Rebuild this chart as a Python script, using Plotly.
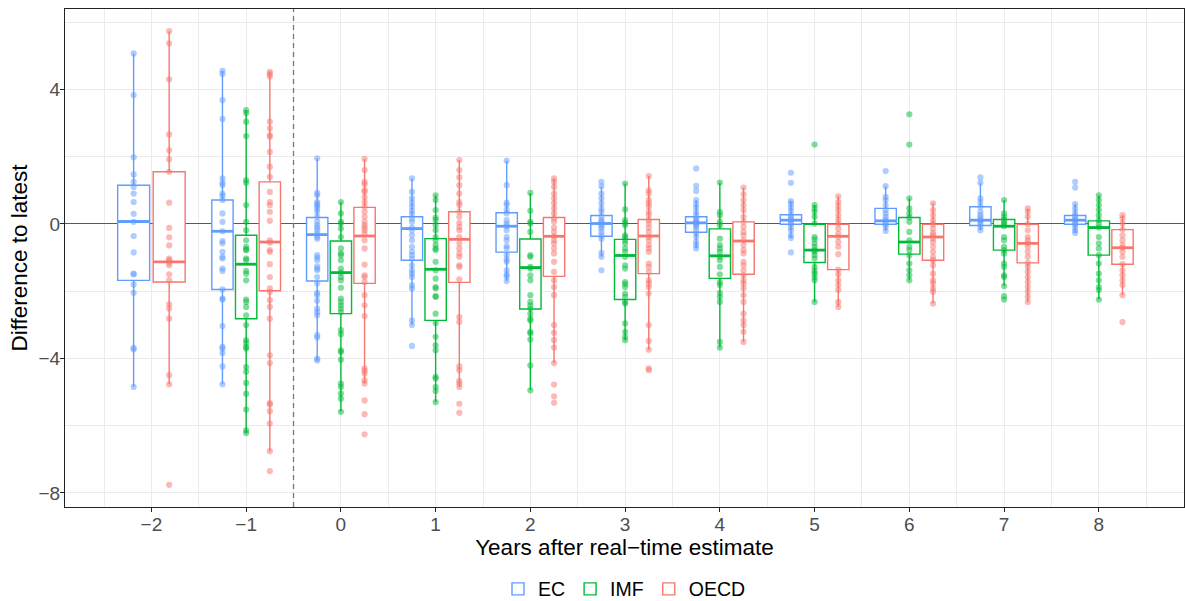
import plotly.graph_objects as go

# ---------------------------------------------------------------------------
# Data: revisions of the real-time estimate relative to the latest vintage
# ---------------------------------------------------------------------------
years = [-2, -1, 0, 1, 2, 3, 4, 5, 6, 7, 8]
sources = ["EC", "IMF", "OECD"]
colors = {"EC": "#619CFF", "IMF": "#00BA38", "OECD": "#F8766D"}

# box statistics per year (None = no forecasts from that source)
ec_q1 = [-1.68, -1.95, -1.70, -1.08, -0.84, -0.37, -0.25, -0.01, -0.01, -0.05, -0.01]
ec_median = [0.07, -0.22, -0.32, -0.14, -0.07, 0.01, 0.03, 0.11, 0.09, 0.11, 0.11]
ec_q3 = [1.15, 0.71, 0.19, 0.21, 0.33, 0.25, 0.21, 0.27, 0.46, 0.51, 0.25]
ec_lo = [-4.85, -4.77, -4.06, -3.01, -1.70, -0.98, -0.73, -0.42, -0.21, -0.19, -0.27]
ec_hi = [5.07, 4.55, 1.95, 1.35, 1.88, 1.12, 0.71, 0.68, 1.12, 1.22, 0.59]

imf_q1 = [None, -2.82, -2.67, -2.87, -2.53, -2.25, -1.62, -1.15, -0.90, -0.78, -0.93]
imf_median = [None, -1.20, -1.45, -1.35, -1.30, -0.94, -0.95, -0.78, -0.54, -0.07, -0.11]
imf_q3 = [None, -0.34, -0.51, -0.44, -0.45, -0.46, -0.15, -0.01, 0.19, 0.13, 0.09]
imf_lo = [None, -6.22, -5.59, -5.30, -4.95, -3.46, -3.68, -2.32, -1.68, -1.85, -2.25]
imf_hi = [None, 3.38, 0.65, 0.85, 0.92, 1.20, 1.23, 0.56, 0.76, 0.71, 0.85]

oecd_q1 = [-1.73, -1.99, -1.77, -1.74, -1.56, -1.48, -1.50, -1.36, -1.08, -1.16, -1.20]
oecd_median = [-1.13, -0.54, -0.36, -0.46, -0.37, -0.36, -0.51, -0.37, -0.39, -0.58, -0.71]
oecd_q3 = [1.55, 1.25, 0.49, 0.36, 0.19, 0.13, 0.06, -0.01, -0.01, -0.01, -0.17]
oecd_lo = [-4.77, -6.76, -4.75, -4.85, -4.14, -3.74, -3.51, -2.47, -2.37, -2.32, -2.12]
oecd_hi = [5.73, 4.52, 1.93, 1.90, 1.35, 1.42, 1.08, 0.82, 0.61, 0.46, 0.26]

# individual country revisions, one list per year
ec_points = [
    [5.07, 3.83, 1.98, 1.47, 1.25, 1.10, 0.90, 0.65, 0.30, 0.06, -0.36, -0.85, -1.48, -1.50, -1.80, -2.05, -3.69, -3.73, -4.85],
    [4.55, 4.46, 3.68, 3.12, 1.35, 1.22, 1.15, 0.90, 0.83, 0.71, 0.31, 0.06, -0.22, -0.51, -0.58, -0.83, -0.98, -1.03, -1.33, -1.40, -1.95, -2.22, -2.25, -3.04, -3.66, -3.71, -3.84, -4.24, -4.77],
    [1.95, 0.92, 0.85, 0.65, 0.59, 0.53, 0.46, 0.36, 0.21, 0.06, -0.04, -0.11, -0.19, -0.29, -0.39, -0.44, -0.93, -1.00, -1.08, -1.26, -1.33, -1.38, -1.58, -1.77, -2.05, -2.12, -2.29, -2.52, -2.62, -2.72, -3.31, -3.38, -4.01, -4.06],
    [1.35, 0.95, 0.76, 0.63, 0.51, 0.39, 0.29, 0.16, 0.06, -0.11, -0.19, -0.34, -0.49, -0.68, -0.83, -0.93, -1.03, -1.23, -1.38, -1.48, -1.58, -1.82, -1.92, -2.87, -3.01, -3.63],
    [1.88, 1.15, 0.63, 0.56, 0.41, 0.31, 0.11, 0.01, -0.07, -0.19, -0.39, -0.49, -0.66, -0.73, -0.93, -1.06, -1.13, -1.38, -1.51, -1.56, -1.70],
    [1.25, 1.12, 0.90, 0.76, 0.61, 0.46, 0.36, 0.21, 0.11, 0.06, -0.01, -0.07, -0.14, -0.24, -0.34, -0.44, -0.86, -0.98, -1.38],
    [1.65, 1.13, 0.98, 0.71, 0.59, 0.49, 0.36, 0.26, 0.16, 0.11, 0.06, 0.01, -0.04, -0.09, -0.19, -0.29, -0.39, -0.54, -0.63, -0.73],
    [1.52, 1.22, 0.68, 0.60, 0.49, 0.39, 0.26, 0.19, 0.13, 0.06, 0.01, -0.09, -0.19, -0.34, -0.42, -0.85],
    [1.57, 1.12, 0.80, 0.71, 0.56, 0.41, 0.31, 0.21, 0.13, 0.06, -0.01, -0.09, -0.21],
    [1.38, 1.22, 0.76, 0.65, 0.51, 0.36, 0.26, 0.19, 0.11, 0.06, -0.01, -0.09, -0.19],
    [1.25, 1.08, 0.59, 0.46, 0.33, 0.23, 0.16, 0.11, 0.06, -0.01, -0.09, -0.19, -0.27],
]

imf_points = [
    [],
    [3.38, 3.30, 3.04, 2.61, 1.30, 1.22, 0.56, 0.06, -0.19, -0.49, -0.68, -0.76, -0.78, -1.03, -1.08, -1.40, -1.48, -1.68, -2.25, -2.32, -2.47, -2.72, -3.01, -3.46, -3.54, -3.66, -3.71, -4.26, -4.40, -4.73, -5.05, -5.52, -6.14, -6.22],
    [0.65, 0.31, 0.06, 0.01, -0.14, -0.39, -0.73, -0.88, -0.93, -1.08, -1.33, -1.45, -1.58, -1.68, -1.90, -2.22, -2.32, -2.42, -2.52, -2.62, -3.16, -3.28, -3.76, -3.81, -4.04, -4.75, -4.85, -5.05, -5.20, -5.59],
    [0.85, 0.71, 0.41, 0.19, 0.11, -0.04, -0.19, -0.39, -0.49, -0.63, -0.73, -0.78, -1.13, -1.38, -1.63, -1.88, -1.92, -2.15, -2.17, -2.67, -2.95, -3.36, -3.61, -3.76, -4.55, -4.60, -4.85, -4.97, -5.30],
    [0.92, 0.39, 0.06, 0.01, -0.24, -0.93, -0.98, -1.28, -1.33, -1.53, -1.68, -2.12, -2.32, -2.42, -2.52, -2.67, -2.82, -2.87, -3.21, -3.26, -3.44, -4.21, -4.95],
    [1.20, 0.43, 0.11, 0.03, -0.04, -0.34, -0.40, -0.49, -0.58, -0.73, -0.83, -0.98, -1.23, -1.33, -1.73, -1.79, -1.88, -2.07, -2.17, -2.32, -2.37, -2.96, -3.21, -3.36, -3.46],
    [1.23, 0.36, 0.26, 0.06, -0.04, -0.44, -0.63, -0.73, -0.83, -0.98, -1.08, -1.28, -1.50, -1.73, -1.82, -2.05, -2.17, -2.32, -3.51, -3.68],
    [2.36, 0.56, 0.46, 0.36, 0.21, 0.01, -0.39, -0.46, -0.58, -0.68, -0.78, -0.83, -0.93, -1.03, -1.28, -1.40, -1.48, -1.58, -1.68, -2.32],
    [3.26, 2.36, 0.76, 0.46, 0.31, 0.19, 0.06, -0.24, -0.49, -0.68, -0.78, -0.93, -1.18, -1.38, -1.53, -1.68],
    [0.71, 0.31, 0.21, 0.13, 0.06, -0.01, -0.07, -0.39, -0.49, -0.68, -0.78, -0.88, -1.18, -1.28, -1.53, -1.58, -1.85, -2.15, -2.25],
    [0.85, 0.71, 0.56, 0.41, 0.26, 0.11, -0.01, -0.11, -0.39, -0.58, -0.73, -0.93, -1.18, -1.48, -1.68, -1.88, -1.97, -2.25],
]

oecd_points = [
    [5.73, 5.37, 4.30, 2.66, 2.19, 1.92, 1.55, 0.63, -0.12, -0.40, -0.64, -1.03, -1.08, -1.15, -1.23, -1.50, -1.68, -2.39, -2.52, -2.82, -4.50, -4.77, -7.76],
    [4.52, 4.46, 4.38, 3.04, 2.84, 2.64, 2.59, 2.14, 1.70, 1.40, 0.95, 0.65, 0.56, 0.36, 0.09, -0.49, -0.56, -0.78, -0.83, -1.20, -1.58, -1.92, -2.02, -2.27, -2.47, -2.82, -3.91, -4.14, -5.33, -5.37, -5.57, -5.94, -6.76, -7.35],
    [1.93, 1.60, 1.25, 1.18, 1.00, 0.95, 0.79, 0.65, 0.51, 0.36, 0.21, 0.06, -0.04, -0.11, -0.19, -0.29, -0.49, -0.73, -1.21, -1.53, -1.58, -1.73, -2.12, -2.42, -2.74, -4.30, -4.37, -4.45, -4.65, -4.75, -5.25, -5.66, -6.26],
    [1.90, 1.60, 1.38, 1.15, 0.90, 0.65, 0.56, 0.36, 0.21, 0.03, -0.09, -0.19, -0.39, -0.58, -0.73, -0.88, -0.98, -1.23, -1.28, -1.65, -2.77, -2.92, -4.24, -4.35, -4.67, -4.75, -4.85, -5.35, -5.62],
    [1.35, 1.25, 1.10, 0.90, 0.76, 0.61, 0.46, 0.31, 0.16, 0.06, -0.11, -0.24, -0.37, -0.49, -0.58, -0.73, -0.88, -1.13, -1.43, -1.68, -1.88, -2.12, -3.01, -3.24, -3.46, -3.68, -4.14, -4.78, -5.13, -5.32],
    [1.42, 1.00, 0.90, 0.71, 0.61, 0.51, 0.36, 0.26, 0.11, 0.01, -0.11, -0.24, -0.39, -0.49, -0.63, -0.73, -0.83, -1.18, -1.28, -1.43, -1.68, -1.77, -1.88, -2.07, -3.01, -3.48, -3.74, -4.30, -4.35],
    [1.08, 0.88, 0.71, 0.56, 0.41, 0.21, 0.06, -0.09, -0.24, -0.34, -0.49, -0.63, -0.78, -0.88, -1.13, -1.23, -1.38, -1.53, -1.68, -1.77, -1.92, -2.12, -2.32, -2.67, -2.87, -3.01, -3.21, -3.51],
    [0.82, 0.65, 0.53, 0.41, 0.26, 0.13, 0.01, -0.14, -0.29, -0.39, -0.54, -0.68, -0.90, -1.36, -1.50, -1.68, -1.82, -1.97, -2.32, -2.47],
    [0.61, 0.41, 0.26, 0.11, -0.01, -0.14, -0.27, -0.34, -0.44, -0.54, -0.68, -0.83, -0.98, -1.08, -1.23, -1.48, -1.68, -1.77, -1.92, -2.02, -2.37],
    [0.46, 0.36, 0.21, -0.01, -0.19, -0.39, -0.49, -0.58, -0.68, -0.83, -0.98, -1.16, -1.28, -1.43, -1.58, -1.73, -1.88, -2.02, -2.17, -2.32],
    [0.26, 0.16, 0.01, -0.17, -0.34, -0.49, -0.63, -0.71, -0.83, -0.98, -1.20, -1.38, -1.53, -1.68, -1.82, -2.12, -2.92],
]

stats = {
    "EC": dict(q1=ec_q1, median=ec_median, q3=ec_q3, lo=ec_lo, hi=ec_hi, pts=ec_points),
    "IMF": dict(q1=imf_q1, median=imf_median, q3=imf_q3, lo=imf_lo, hi=imf_hi, pts=imf_points),
    "OECD": dict(q1=oecd_q1, median=oecd_median, q3=oecd_q3, lo=oecd_lo, hi=oecd_hi, pts=oecd_points),
}

# ---------------------------------------------------------------------------
# Dodged positions: the sources present in a year share a 0.75-wide slot
# ---------------------------------------------------------------------------
DODGE = 0.75
PAD = 0.1
placement = {}
for yi, year in enumerate(years):
    present = [s for s in sources if stats[s]["median"][yi] is not None]
    slot = DODGE / len(present)
    for k, s in enumerate(present):
        placement[(s, yi)] = (year - DODGE / 2 + slot * (k + 0.5), slot * (1 - PAD))

fig = go.Figure()

# boxes (with whiskers) and a thicker median bar
for s in sources:
    st = stats[s]
    first = True
    for yi in range(len(years)):
        if st["median"][yi] is None:
            continue
        cx, w = placement[(s, yi)]
        fig.add_trace(go.Box(
            x=[cx], q1=[st["q1"][yi]], median=[st["median"][yi]], q3=[st["q3"][yi]],
            lowerfence=[st["lo"][yi]], upperfence=[st["hi"][yi]],
            width=w, whiskerwidth=0, boxpoints=False,
            fillcolor="white", line=dict(color=colors[s], width=1.4),
            name=s, legendgroup=s, showlegend=first, hoverinfo="skip",
        ))
        first = False

for s in sources:
    st = stats[s]
    mx, my = [], []
    for yi in range(len(years)):
        if st["median"][yi] is None:
            continue
        cx, w = placement[(s, yi)]
        mx += [cx - w / 2, cx + w / 2, None]
        my += [st["median"][yi], st["median"][yi], None]
    fig.add_trace(go.Scatter(
        x=mx, y=my, mode="lines", line=dict(color=colors[s], width=2.8),
        legendgroup=s, showlegend=False, hoverinfo="skip",
    ))

# individual observations drawn on the box centre line
for s in sources:
    st = stats[s]
    px, py = [], []
    for yi in range(len(years)):
        if st["median"][yi] is None:
            continue
        cx, _ = placement[(s, yi)]
        px += [cx] * len(st["pts"][yi])
        py += st["pts"][yi]
    fig.add_trace(go.Scatter(
        x=px, y=py, mode="markers",
        marker=dict(size=6.2, color=colors[s], opacity=0.5, line=dict(width=0)),
        legendgroup=s, showlegend=False, hoverinfo="skip",
    ))

# boundary between pre-release and real-time vintages
fig.add_shape(type="line", x0=-0.5, x1=-0.5, yref="paper", y0=0, y1=1,
              line=dict(color="#7A7A7A", width=1.3, dash="5px,4px"), layer="above")

GRID = "#EBEBEB"
FRAME = "#222222"
fig.update_layout(
    width=1185, height=601,
    margin=dict(l=65, r=1, t=9, b=94, autoexpand=False),
    plot_bgcolor="white", paper_bgcolor="white",
    font=dict(family="Liberation Sans, Arial, sans-serif", size=19, color="#4D4D4D"),
    boxmode="overlay",
    legend=dict(orientation="h", x=0.5, xanchor="center", y=-0.165, yanchor="middle",
                font=dict(size=19.5, color="black"), traceorder="normal"),
    xaxis=dict(
        range=[-2.912, 8.899], tickmode="array", tickvals=years,
        ticks="outside", ticklen=4, tickcolor=FRAME, tickwidth=1.1,
        ticklabelstandoff=-4,
        showgrid=True, gridcolor=GRID, gridwidth=1.1,
        minor=dict(tickmode="array", tickvals=[y + 0.5 for y in [years[0] - 1] + years],
                   showgrid=True, gridcolor=GRID, gridwidth=0.6, ticks=""),
        showline=True, mirror=True, linecolor=FRAME, linewidth=1.1, zeroline=False,
        title=dict(text="Years after real\u2212time estimate",
                   font=dict(size=22.5, color="black"), standoff=0),
    ),
    yaxis=dict(
        range=[-8.42, 6.39], tickmode="array", tickvals=[-8, -4, 0, 4],
        ticks="outside", ticklen=4, tickcolor=FRAME, tickwidth=1.1,
        ticklabelstandoff=-4,
        showgrid=True, gridcolor=GRID, gridwidth=1.1,
        minor=dict(tickmode="array", tickvals=[-6, -2, 2, 6],
                   showgrid=True, gridcolor=GRID, gridwidth=0.6, ticks=""),
        showline=True, mirror=True, linecolor=FRAME, linewidth=1.1,
        # zero-revision reference line
        zeroline=True, zerolinecolor="#5A5A5A", zerolinewidth=1.4,
        title=dict(text="Difference to latest",
                   font=dict(size=22.5, color="black"), standoff=4),
    ),
)

fig.write_html("out.html")
